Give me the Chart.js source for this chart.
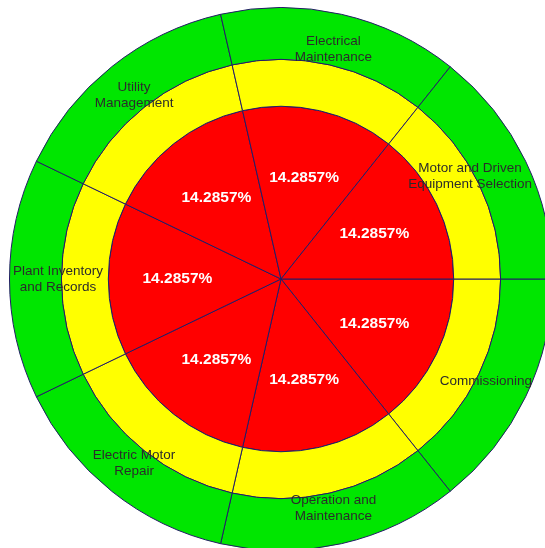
<!DOCTYPE html>
<html>
<head>
<meta charset="utf-8">
<script src="https://cdn.jsdelivr.net/npm/chart.js@4/dist/chart.umd.min.js"></script>
<style>
  html, body { margin: 0; padding: 0; overflow: hidden; background: #fff; width: 545px; height: 548px; }
  #c { position: absolute; left: 9px; top: 7px; }
</style>
</head>
<body>
<canvas id="c" width="544" height="544"></canvas>
<script>
// categories, clockwise starting from the horizontal line on the right
var categories = [
  ["Commissioning"],
  ["Operation and", "Maintenance"],
  ["Electric Motor", "Repair"],
  ["Plant Inventory", "and Records"],
  ["Utility", "Management"],
  ["Electrical", "Maintenance"],
  ["Motor and Driven", "Equipment Selection"]
];
var shares = [14.2857, 14.2857, 14.2857, 14.2857, 14.2857, 14.2857, 14.2857];
var percentLabels = ["14.2857%", "14.2857%", "14.2857%", "14.2857%", "14.2857%", "14.2857%", "14.2857%"];

// ring thickness weights (outer green, middle yellow, inner red)
var ringWeights = [52, 47, 173];

var lineColor = '#231c66';

var sliceLabels = {
  id: 'sliceLabels',
  afterDatasetsDraw: function(chart) {
    var ctx = chart.ctx;
    var yellow = chart.getDatasetMeta(1).data;
    var red = chart.getDatasetMeta(2).data;
    ctx.save();
    ctx.textAlign = 'center';
    ctx.textBaseline = 'middle';

    // percentages in the red pie
    ctx.fillStyle = '#ffffff';
    ctx.font = 'bold 15.5px "Liberation Sans", Arial, sans-serif';
    red.forEach(function(arc, i) {
      var mid = (arc.startAngle + arc.endAngle) / 2;
      var r = arc.outerRadius * 0.6;
      ctx.fillText(percentLabels[i], arc.x + Math.cos(mid) * r, arc.y + Math.sin(mid) * r);
    });

    // category names near the yellow / green border, kept inside the page
    ctx.fillStyle = '#2b2b2b';
    ctx.font = '13.5px "Liberation Sans", Arial, sans-serif';
    var minX = 4, maxX = 523; // canvas coords (page x 13..532)
    yellow.forEach(function(arc, i) {
      var mid = (arc.startAngle + arc.endAngle) / 2;
      var r = arc.outerRadius + 16;
      var cx = arc.x + Math.cos(mid) * r;
      var cy = arc.y + Math.sin(mid) * r;
      var lines = categories[i];
      var w = Math.max.apply(null, lines.map(function(t) { return ctx.measureText(t).width; }));
      if (cx + w / 2 > maxX) cx = maxX - w / 2;
      if (cx - w / 2 < minX) cx = minX + w / 2;
      lines.forEach(function(t, k) {
        ctx.fillText(t, cx, cy + (k - (lines.length - 1) / 2) * 16);
      });
    });
    ctx.restore();
  }
};

new Chart(document.getElementById('c'), {
  type: 'doughnut',
  data: {
    labels: categories.map(function(c) { return c.join(' '); }),
    datasets: [
      { data: shares, backgroundColor: '#00e600', borderColor: lineColor, borderWidth: 1, weight: ringWeights[0] },
      { data: shares, backgroundColor: '#ffff00', borderColor: lineColor, borderWidth: 1, weight: ringWeights[1] },
      { data: shares, backgroundColor: '#ff0000', borderColor: lineColor, borderWidth: 1, weight: ringWeights[2] }
    ]
  },
  options: {
    responsive: false,
    animation: false,
    cutout: 0,
    rotation: 90,
    layout: { padding: 0 },
    plugins: {
      legend: { display: false },
      tooltip: { enabled: false }
    }
  },
  plugins: [sliceLabels]
});
</script>
</body>
</html>
